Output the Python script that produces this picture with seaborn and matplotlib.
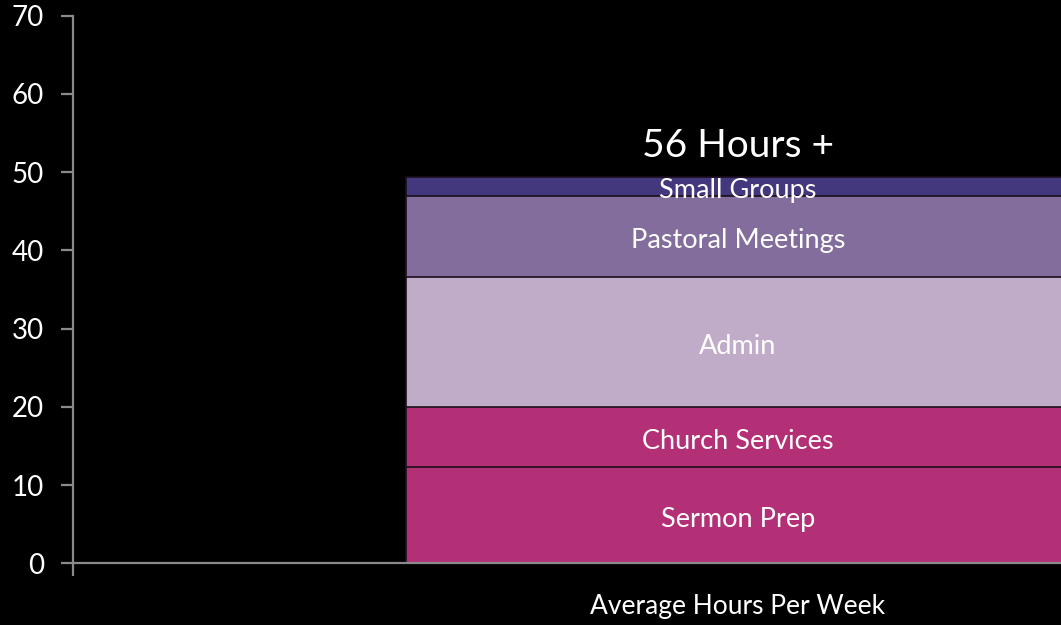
import numpy as np
import pandas as pd
import matplotlib
matplotlib.use('Agg')
import matplotlib.pyplot as plt
import seaborn as sns

# values (hours per week, bottom to top)
category = 'Average Hours Per Week'
activities = ['Sermon Prep', 'Church Services', 'Admin', 'Pastoral Meetings', 'Small Groups']
hours = [12.3, 7.7, 16.6, 10.4, 2.4]
colors = ['#b33077', '#b33077', '#c0abc8', '#836d9c', '#43387e']
total_label = '56 Hours +'

sns.set_style('dark')
plt.rcParams['font.family'] = ['Lato', 'DejaVu Sans']

df = pd.DataFrame({'activity': activities, 'hours': hours})
df['top'] = df['hours'].cumsum()
df['bottom'] = df['top'] - df['hours']
df['x'] = category

fig = plt.figure(figsize=(10.61, 6.25), dpi=100, facecolor='black')
ax = fig.add_axes([0.0688, 0.0987, 0.9312, 0.8762])
ax.set_facecolor('black')

# stacked bar: draw cumulative totals from the top layer down
for i in reversed(range(len(df))):
    sns.barplot(data=df.iloc[[i]], x='x', y='top', color=colors[i], width=1.0,
                saturation=1, edgecolor='#1a0f1a', linewidth=1.2, ax=ax)

for _, row in df.iterrows():
    ax.text(0, (row['bottom'] + row['top']) / 2 - 0.6, row['activity'], color='white',
            fontsize=19.5, ha='center', va='center')

ax.text(0, df['top'].iloc[-1] + 3.9, total_label, color='white', fontsize=28,
        ha='center', va='center')

ax.set_ylim(0, 70)
ax.set_yticks(range(0, 71, 10))
xmin = -1.0015
ax.set_xlim(xmin, 0.4864)
ax.set_xticks([0])
ax.set_xticklabels([category])
ax.set_xticks([xmin], minor=True)
ax.set_xlabel('')
ax.set_ylabel('')

gray = '#8a8a8a'
for s in ['top', 'right']:
    ax.spines[s].set_visible(False)
for s in ['left', 'bottom']:
    ax.spines[s].set_visible(True)
    ax.spines[s].set_color(gray)
    ax.spines[s].set_linewidth(1.6)
    ax.spines[s].set_zorder(5)

ax.tick_params(axis='y', left=True, colors='white', labelsize=20, length=9, width=1.6,
               direction='out', pad=12)
ax.tick_params(axis='y', color=gray)
ax.tick_params(axis='x', which='major', bottom=True, length=0, labelcolor='white',
               labelsize=19, pad=22)
ax.tick_params(axis='x', which='minor', bottom=True, length=9, width=1.6, color=gray,
               direction='out')
ax.grid(False)

fig.savefig('out.png', dpi=100, facecolor='black')
